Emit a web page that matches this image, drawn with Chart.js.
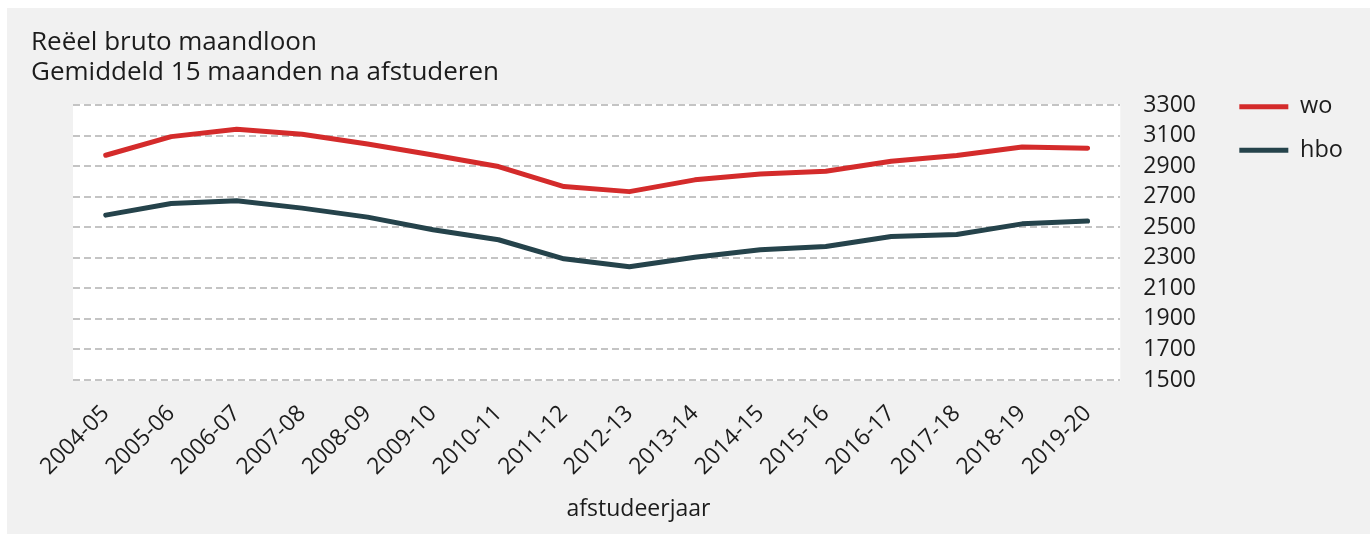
<!DOCTYPE html>
<html>
<head>
<meta charset="utf-8">
<script src="https://cdn.jsdelivr.net/npm/chart.js@4.4.1/dist/chart.umd.min.js"></script>
<style>
  html, body { margin: 0; padding: 0; background: #ffffff; }
  #panel { position: absolute; left: 7px; top: 8px; width: 1363px; height: 526px; background: #f1f1f1; }
  canvas { display: block; }
</style>
</head>
<body>
<div id="panel"><canvas id="c" width="1363" height="526"></canvas></div>
<script>
const categories = ['2004-05','2005-06','2006-07','2007-08','2008-09','2009-10','2010-11','2011-12','2012-13','2013-14','2014-15','2015-16','2016-17','2017-18','2018-19','2019-20'];
const woValues  = [2971, 3093, 3141, 3109, 3045, 2973, 2897, 2766, 2733, 2810, 2849, 2866, 2932, 2969, 3025, 3017];
const hboValues = [2579, 2655, 2673, 2625, 2566, 2483, 2418, 2293, 2241, 2304, 2352, 2374, 2439, 2452, 2522, 2540];
const yTickValues = [1500, 1700, 1900, 2100, 2300, 2500, 2700, 2900, 3100, 3300];
const seriesNames = ['wo', 'hbo'];
const titleLines = ['Reëel bruto maandloon', 'Gemiddeld 15 maanden na afstuderen'];
const xAxisTitle = 'afstudeerjaar';

const FONT = '"Open Sans", Lato, sans-serif';
const TEXT = '#1c1c1c';

const plotBg = {
  id: 'plotBg',
  beforeDraw(chart) {
    const a = chart.chartArea, ctx = chart.ctx;
    ctx.save();
    ctx.fillStyle = '#ffffff';
    ctx.fillRect(a.left, a.top - 1, a.right - a.left, a.bottom - a.top + 2);
    ctx.restore();
  }
};

new Chart(document.getElementById('c'), {
  type: 'line',
  data: {
    labels: categories,
    datasets: [
      { label: seriesNames[0], data: woValues, borderColor: '#d42b2b', backgroundColor: '#d42b2b',
        borderWidth: 5, pointRadius: 0, tension: 0, borderCapStyle: 'round', borderJoinStyle: 'round', yAxisID: 'y' },
      { label: seriesNames[1], data: hboValues, borderColor: '#25434b', backgroundColor: '#25434b',
        borderWidth: 5, pointRadius: 0, tension: 0, borderCapStyle: 'round', borderJoinStyle: 'round', yAxisID: 'y' }
    ]
  },
  options: {
    responsive: false,
    animation: false,
    devicePixelRatio: 1,
    layout: { padding: { left: 24, right: 17, top: 0, bottom: 0 } },
    plugins: {
      title: {
        display: true, text: titleLines, align: 'start', color: TEXT,
        font: { family: FONT, size: 26, weight: 'normal', lineHeight: 30 / 26 },
        padding: { top: 20, bottom: 17 }
      },
      legend: {
        display: true, position: 'right', align: 'start', fullSize: true,
        title: { display: true, text: '', padding: { top: 55, bottom: 0 }, font: { size: 12, lineHeight: 1 } },
        labels: {
          usePointStyle: true, pointStyle: 'line', pointStyleWidth: 49, boxHeight: 23.5,
          padding: 20, color: TEXT, font: { family: FONT, size: 23.5 }
        }
      },
      tooltip: { enabled: false }
    },
    scales: {
      x: {
        type: 'category',
        offset: true,
        grid: { display: false },
        border: { display: false },
        ticks: { autoSkip: false, maxRotation: 45, minRotation: 45, color: TEXT, padding: 12,
                 font: { family: FONT, size: 23 } },
        title: { display: true, text: '\u00a0'.repeat(14) + xAxisTitle, color: TEXT,
                 font: { family: FONT, size: 23, lineHeight: 1.2 }, padding: { top: 0, bottom: 11 } },
        afterFit(s) { s.height = 154; }
      },
      y: {
        position: 'right',
        min: 1500, max: 3300,
        afterBuildTicks(s) { s.ticks = yTickValues.map(v => ({ value: v })); },
        grid: { color: '#c4c4c4', lineWidth: 2, drawTicks: false },
        border: { display: false, dash: [7, 4] },
        ticks: { autoSkip: false, color: TEXT, padding: 23, font: { family: FONT, size: 23 },
                 callback: (v) => String(v) },
        afterFit(s) { s.width = 99; }
      },
      yLeft: {
        position: 'left',
        display: true,
        grid: { display: false },
        border: { display: false },
        ticks: { display: false },
        afterFit(s) { s.width = 42; }
      }
    }
  },
  plugins: [plotBg]
});
</script>
</body>
</html>
